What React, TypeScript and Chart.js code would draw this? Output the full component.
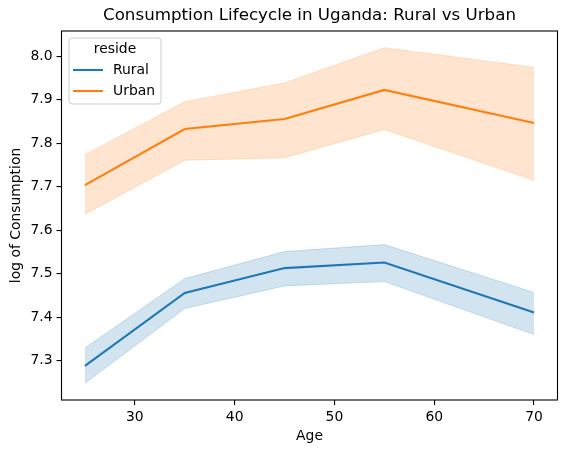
import React, { useEffect, useRef } from "react";
import { Chart, registerables } from "chart.js";

Chart.register(...registerables);

const ages = [25, 35, 45, 55, 70];
const ruralMean = [7.288, 7.456, 7.513, 7.526, 7.411];
const ruralLower = [7.248, 7.42, 7.472, 7.482, 7.36];
const ruralUpper = [7.329, 7.489, 7.551, 7.567, 7.457];
const urbanMean = [7.704, 7.833, 7.856, 7.923, 7.847];
const urbanLower = [7.637, 7.761, 7.767, 7.832, 7.715];
const urbanUpper = [7.774, 7.896, 7.939, 8.02, 7.975];
const xTicks = [30, 40, 50, 60, 70];
const yTicks = [7.3, 7.4, 7.5, 7.6, 7.7, 7.8, 7.9, 8.0];
const seriesNames = ["Rural", "Urban"];
const legendTitle = "reside";
const chartTitle = "Consumption Lifecycle in Uganda: Rural vs Urban";
const xLabel = "Age";
const yLabel = "log of Consumption";

const BLUE = "#1f77b4";
const ORANGE = "#ff7f0e";
const BLUE_A = "rgba(31,119,180,0.2)";
const ORANGE_A = "rgba(255,127,14,0.2)";
const FONT = "'DejaVu Sans', sans-serif";
const FS = 13.9;

const pts = (ys: number[]) => ages.map((x, i) => ({ x, y: ys[i] }));

const framePlugin = {
  id: "frameAndLegend",
  afterDraw(chart: any) {
    const { ctx, chartArea: a } = chart;
    ctx.save();
    ctx.strokeStyle = "#000";
    ctx.lineWidth = 1.1;
    ctx.strokeRect(a.left, a.top, a.right - a.left, a.bottom - a.top);

    // title centred over the plot area
    ctx.fillStyle = "#000";
    ctx.font = `16.7px ${FONT}`;
    ctx.textAlign = "center";
    ctx.textBaseline = "middle";
    ctx.fillText(chartTitle, (a.left + a.right) / 2, 16);

    // legend
    const bx = 69, by = 38, bw = 92, bh = 66, r = 3;
    ctx.beginPath();
    ctx.moveTo(bx + r, by);
    ctx.lineTo(bx + bw - r, by);
    ctx.quadraticCurveTo(bx + bw, by, bx + bw, by + r);
    ctx.lineTo(bx + bw, by + bh - r);
    ctx.quadraticCurveTo(bx + bw, by + bh, bx + bw - r, by + bh);
    ctx.lineTo(bx + r, by + bh);
    ctx.quadraticCurveTo(bx, by + bh, bx, by + bh - r);
    ctx.lineTo(bx, by + r);
    ctx.quadraticCurveTo(bx, by, bx + r, by);
    ctx.closePath();
    ctx.fillStyle = "rgba(255,255,255,0.8)";
    ctx.fill();
    ctx.strokeStyle = "#cccccc";
    ctx.lineWidth = 1;
    ctx.stroke();

    ctx.fillStyle = "#000";
    ctx.font = `${FS}px ${FONT}`;
    ctx.textBaseline = "middle";
    ctx.textAlign = "center";
    ctx.fillText(legendTitle, bx + bw / 2, 49.5);
    ctx.textAlign = "left";
    const colors = [BLUE, ORANGE];
    const ys = [70, 91];
    seriesNames.forEach((name, i) => {
      ctx.strokeStyle = colors[i];
      ctx.lineWidth = 2.1;
      ctx.beginPath();
      ctx.moveTo(73, ys[i]);
      ctx.lineTo(103, ys[i]);
      ctx.stroke();
      ctx.fillStyle = "#000";
      ctx.fillText(name, 113, ys[i] + 0.5);
    });
    ctx.restore();
  },
};

export default function App() {
  const ref = useRef<HTMLCanvasElement>(null);
  useEffect(() => {
    document.body.style.margin = "0";
    const canvas = ref.current!;
    const band = (ys: number[], c: string, fill: any) => ({
      data: pts(ys),
      borderColor: c,
      borderWidth: 1,
      backgroundColor: c,
      fill,
      pointRadius: 0,
      tension: 0,
      order: 2,
    });
    const line = (ys: number[], c: string, label: string) => ({
      label,
      data: pts(ys),
      borderColor: c,
      borderWidth: 2.1,
      backgroundColor: c,
      fill: false,
      pointRadius: 0,
      tension: 0,
      order: 0,
    });
    const chart = new Chart(canvas, {
      type: "line",
      data: {
        datasets: [
          band(ruralUpper, BLUE_A, "+1"),
          band(ruralLower, BLUE_A, false),
          band(urbanUpper, ORANGE_A, "+1"),
          band(urbanLower, ORANGE_A, false),
          line(ruralMean, BLUE, seriesNames[0]),
          line(urbanMean, ORANGE, seriesNames[1]),
        ] as any,
      },
      options: {
        animation: false,
        responsive: false,
        devicePixelRatio: window.devicePixelRatio || 1,
        layout: { padding: { left: 0, right: 9.5, top: 31, bottom: 0 } },
        font: { family: FONT },
        plugins: {
          legend: { display: false },
          tooltip: { enabled: false },
          title: { display: false },
        },
        scales: {
          x: {
            type: "linear",
            min: 22.65,
            max: 72.35,
            afterBuildTicks: (s: any) => {
              s.ticks = xTicks.map((v) => ({ value: v }));
            },
            afterFit: (s: any) => {
              s.height = 53;
            },
            ticks: {
              color: "#000",
              font: { family: FONT, size: FS },
              padding: 4,
              maxRotation: 0,
              autoSkip: false,
              callback: (v: any) => String(v),
            },
            grid: {
              display: true,
              drawOnChartArea: false,
              drawTicks: true,
              tickLength: 5,
              color: "#000",
              lineWidth: 1.1,
            },
            border: { display: false },
            title: {
              display: true,
              text: xLabel,
              color: "#000",
              font: { family: FONT, size: FS },
              padding: { top: 0, bottom: 8.5 },
            },
          },
          y: {
            type: "linear",
            min: 7.2095,
            max: 8.0585,
            afterBuildTicks: (s: any) => {
              s.ticks = yTicks.map((v) => ({ value: v }));
            },
            afterFit: (s: any) => {
              s.width = 61.5;
            },
            ticks: {
              color: "#000",
              font: { family: FONT, size: FS },
              padding: 4,
              autoSkip: false,
              callback: (v: any) => Number(v).toFixed(1),
            },
            grid: {
              display: true,
              drawOnChartArea: false,
              drawTicks: true,
              tickLength: 5,
              color: "#000",
              lineWidth: 1.1,
            },
            border: { display: false },
            title: {
              display: true,
              text: yLabel,
              color: "#000",
              font: { family: FONT, size: FS },
              padding: { top: 8.5, bottom: 0 },
            },
          },
        },
      },
      plugins: [framePlugin],
    } as any);
    return () => chart.destroy();
  }, []);
  return (
    <div style={{ width: 567, height: 453 }}>
      <canvas ref={ref} width={567} height={453} style={{ display: "block" }} />
    </div>
  );
}
